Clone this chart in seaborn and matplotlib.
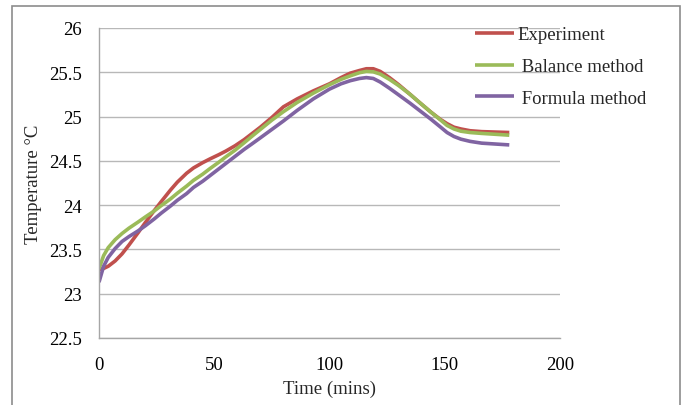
import matplotlib
matplotlib.use("Agg")
import matplotlib.pyplot as plt
from matplotlib.patches import Rectangle
import pandas as pd
import seaborn as sns

# Sampling times (minutes)
time_min = [0, 2, 4, 7, 10, 13, 17, 20, 24, 27, 31, 34, 38, 41, 45, 48, 52, 55,
            59, 63, 66, 70, 75, 80, 86, 93, 100, 105, 109, 113, 116, 119, 122,
            126, 130, 135, 139, 144, 148, 151, 154, 157, 161, 166, 172, 178]

# Temperatures (°C)
experiment = [23.27, 23.285, 23.31, 23.37, 23.45, 23.55, 23.69, 23.80, 23.94, 24.04,
              24.17, 24.26, 24.36, 24.42, 24.48, 24.52, 24.57, 24.61, 24.67, 24.74,
              24.80, 24.88, 24.99, 25.11, 25.20, 25.29, 25.37, 25.44, 25.49, 25.52,
              25.54, 25.54, 25.51, 25.44, 25.36, 25.25, 25.16, 25.05, 24.97, 24.92,
              24.88, 24.86, 24.84, 24.83, 24.825, 24.82]
balance_method = [23.28, 23.43, 23.52, 23.61, 23.68, 23.74, 23.81, 23.865, 23.935, 23.995,
                  24.07, 24.135, 24.215, 24.28, 24.35, 24.41, 24.485, 24.545, 24.62, 24.705,
                  24.77, 24.855, 24.96, 25.055, 25.16, 25.265, 25.36, 25.42, 25.46, 25.495,
                  25.51, 25.505, 25.48, 25.42, 25.35, 25.25, 25.16, 25.05, 24.965, 24.90,
                  24.86, 24.835, 24.82, 24.81, 24.80, 24.79]
formula_method = [23.13, 23.31, 23.41, 23.51, 23.59, 23.645, 23.71, 23.765, 23.845, 23.91,
                  23.99, 24.055, 24.13, 24.20, 24.27, 24.33, 24.41, 24.47, 24.55, 24.63,
                  24.685, 24.76, 24.855, 24.95, 25.07, 25.20, 25.31, 25.37, 25.405, 25.43,
                  25.44, 25.43, 25.39, 25.32, 25.245, 25.15, 25.07, 24.97, 24.885, 24.82,
                  24.775, 24.745, 24.72, 24.70, 24.69, 24.68]

series_names = ["Experiment", " Balance method", " Formula method"]
series_colors = ["#C0504D", "#9BBB59", "#8064A2"]

x_ticks = [0, 50, 100, 150, 200]
y_ticks = [22.5, 23, 23.5, 24, 24.5, 25, 25.5, 26]
y_tick_labels = ["22.5", "23", "23.5", "24", "24.5", "25", "25.5", "26"]

df = pd.concat([
    pd.DataFrame({"Time": time_min, "Temperature": vals, "Series": name})
    for name, vals in zip(series_names, [experiment, balance_method, formula_method])
], ignore_index=True)

sns.set_style("white")
plt.rcParams["font.family"] = ["Liberation Serif", "DejaVu Serif"]
FS = 13.5

fig = plt.figure(figsize=(6.84, 4.06), dpi=100)
ax = fig.add_axes([99 / 684, 1 - 339 / 406, (560 - 99) / 684, (339 - 29) / 406])

# Outer chart-area frame
fig.patches.append(Rectangle((12 / 684, -0.01), (680 - 12) / 684, 1 - 7 / 406 + 0.01,
                             transform=fig.transFigure, fill=False,
                             edgecolor="#8c8c8c", linewidth=1.2, zorder=0))

sns.lineplot(data=df, x="Time", y="Temperature", hue="Series",
             palette=dict(zip(series_names, series_colors)),
             linewidth=2.6, sort=False, ax=ax, legend=True)
for ln in ax.lines:
    ln.set_solid_joinstyle("round")
    ln.set_solid_capstyle("butt")

ax.set_xlim(0, 200)
ax.set_ylim(22.5, 26)
ax.set_xticks(x_ticks)
ax.set_yticks(y_ticks)
ax.set_yticklabels(y_tick_labels)
ax.grid(axis="y", color="#b8b8b8", linewidth=1.0)
ax.grid(axis="x", visible=False)
ax.set_axisbelow(True)
for side in ["top", "right"]:
    ax.spines[side].set_visible(False)
for side in ["left", "bottom"]:
    ax.spines[side].set_color("#a6a6a6")
    ax.spines[side].set_linewidth(1.0)
ax.tick_params(axis="both", length=0, labelsize=FS, colors="black")
ax.tick_params(axis="y", pad=12.5)
ax.tick_params(axis="x", pad=13)

ax.set_xlabel("Time (mins)", fontsize=FS, labelpad=5)
ax.set_ylabel("Temperature °C", fontsize=FS, labelpad=5)

leg = ax.legend(loc="upper left", bbox_to_anchor=(475 / 684, 1 - 27 / 406),
                bbox_transform=fig.transFigure, frameon=False, fontsize=FS,
                handlelength=2.1, handletextpad=0.15, labelspacing=0.79,
                borderaxespad=0, borderpad=0)
for h in leg.get_lines():
    h.set_linewidth(2.6)

fig.savefig("out.png", dpi=100)
